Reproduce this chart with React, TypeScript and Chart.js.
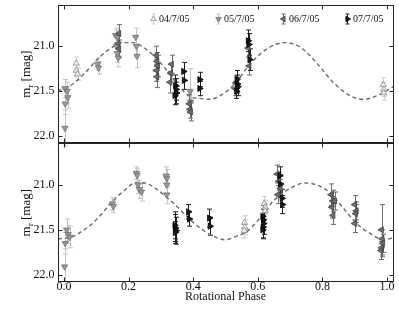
import React, { useEffect, useRef } from 'react';
import { Chart, registerables } from 'chart.js';
Chart.register(...registerables);

type P = [number, number, number]; // phase, magnitude, error

const xTicks = [0, 0.2, 0.4, 0.6, 0.8, 1.0];
const yTicks = [21.0, 21.5, 22.0];
const sessions = ['04/7/05', '05/7/05', '06/7/05', '07/7/05'];

// ---- top panel observations ----
const top04: P[] = [[0.038, 21.19, 0.07], [0.038, 21.27, 0.07], [0.042, 21.31, 0.07], [0.988, 21.43, 0.08], [0.990, 21.48, 0.08], [0.990, 21.52, 0.08]];
const top05: P[] = [[0.003, 21.47, 0.1], [0.010, 21.50, 0.1], [0.012, 21.57, 0.12], [0.004, 21.64, 0.12], [0.003, 21.91, 0.2], [0.104, 21.20, 0.07], [0.107, 21.24, 0.07], [0.160, 20.88, 0.08], [0.165, 20.90, 0.08], [0.163, 21.00, 0.1], [0.165, 21.08, 0.1], [0.168, 21.13, 0.1], [0.222, 20.90, 0.1], [0.224, 21.00, 0.12], [0.226, 21.11, 0.13], [0.390, 21.50, 0.25], [0.392, 21.62, 0.12]];
const top06: P[] = [[0.170, 20.86, 0.1], [0.168, 20.97, 0.1], [0.170, 21.03, 0.1], [0.286, 21.10, 0.1], [0.288, 21.17, 0.1], [0.290, 21.22, 0.12], [0.286, 21.27, 0.12], [0.288, 21.34, 0.12], [0.333, 21.20, 0.1], [0.330, 21.30, 0.1], [0.328, 21.40, 0.12], [0.388, 21.64, 0.1], [0.390, 21.70, 0.1], [0.392, 21.73, 0.1], [0.530, 21.47, 0.08], [0.532, 21.41, 0.08], [0.570, 21.02, 0.1], [0.573, 21.22, 0.1]];
const top07: P[] = [[0.345, 21.44, 0.12], [0.347, 21.48, 0.12], [0.348, 21.52, 0.12], [0.343, 21.55, 0.1], [0.370, 21.28, 0.1], [0.372, 21.38, 0.1], [0.420, 21.37, 0.08], [0.420, 21.47, 0.08], [0.535, 21.37, 0.1], [0.537, 21.42, 0.1], [0.538, 21.45, 0.1], [0.534, 21.50, 0.08], [0.570, 20.94, 0.12], [0.572, 20.98, 0.12], [0.575, 21.15, 0.12]];

// ---- bottom panel observations ----
const bot04: P[] = [[0.559, 21.42, 0.08], [0.560, 21.47, 0.08], [0.558, 21.51, 0.08], [0.620, 21.21, 0.08], [0.623, 21.25, 0.08], [0.622, 21.29, 0.08]];
const bot05: P[] = [[0.008, 21.50, 0.12], [0.013, 21.55, 0.1], [0.018, 21.58, 0.12], [0.004, 21.65, 0.12], [0.002, 21.91, 0.2], [0.150, 21.21, 0.07], [0.153, 21.24, 0.07], [0.224, 20.87, 0.07], [0.226, 20.89, 0.07], [0.229, 21.00, 0.1], [0.233, 21.05, 0.1], [0.240, 21.08, 0.1], [0.316, 20.90, 0.1], [0.318, 20.93, 0.1], [0.318, 21.00, 0.1], [0.318, 21.11, 0.1]];
const bot06: P[] = [[0.660, 20.88, 0.1], [0.665, 20.96, 0.1], [0.662, 21.11, 0.1], [0.670, 21.04, 0.1], [0.827, 21.11, 0.12], [0.832, 21.18, 0.12], [0.838, 21.18, 0.1], [0.829, 21.25, 0.12], [0.833, 21.34, 0.1], [0.900, 21.22, 0.1], [0.905, 21.29, 0.1], [0.903, 21.32, 0.1], [0.900, 21.43, 0.1], [0.983, 21.50, 0.28], [0.985, 21.60, 0.1], [0.987, 21.65, 0.1], [0.983, 21.70, 0.1], [0.981, 21.73, 0.1]];
const bot07: P[] = [[0.343, 21.45, 0.15], [0.345, 21.48, 0.15], [0.347, 21.51, 0.15], [0.344, 21.53, 0.12], [0.385, 21.30, 0.08], [0.388, 21.38, 0.08], [0.450, 21.37, 0.1], [0.452, 21.46, 0.1], [0.615, 21.35, 0.12], [0.617, 21.39, 0.12], [0.618, 21.43, 0.12], [0.616, 21.47, 0.12], [0.615, 21.50, 0.1], [0.668, 20.90, 0.1], [0.670, 20.99, 0.1], [0.675, 21.15, 0.1], [0.676, 21.22, 0.1]];

// ---- model light curves ----
const topCurvePhase = [-0.019, 0.019, 0.056, 0.111, 0.142, 0.183, 0.214, 0.245, 0.276, 0.319, 0.359, 0.396, 0.421, 0.452, 0.483, 0.523, 0.576, 0.628, 0.684, 0.731, 0.783, 0.833, 0.885, 0.926, 0.969, 1.019];
const topCurveMag = [21.50, 21.44, 21.33, 21.12, 21.03, 20.96, 20.96, 21.01, 21.10, 21.27, 21.46, 21.57, 21.58, 21.59, 21.55, 21.44, 21.20, 21.03, 20.96, 21.01, 21.19, 21.40, 21.55, 21.59, 21.55, 21.45];
const botCurvePhase = [-0.019, 0.023, 0.054, 0.085, 0.115, 0.146, 0.188, 0.219, 0.250, 0.291, 0.322, 0.338, 0.380, 0.421, 0.462, 0.498, 0.535, 0.566, 0.607, 0.628, 0.638, 0.679, 0.710, 0.746, 0.782, 0.824, 0.865, 0.906, 0.947, 0.989, 1.019];
const botCurveMag = [21.60, 21.58, 21.52, 21.44, 21.33, 21.20, 21.06, 20.98, 20.98, 21.06, 21.15, 21.20, 21.35, 21.48, 21.57, 21.61, 21.57, 21.52, 21.37, 21.28, 21.22, 21.09, 21.02, 20.98, 21.00, 21.09, 21.26, 21.43, 21.54, 21.61, 21.59];

const FONT = '"Liberation Serif", "DejaVu Serif", serif';
const STY = [
  { rot: 0, bg: '#efefef', bd: '#8c8c8c', err: '#cfcfcf' },
  { rot: 180, bg: '#9a9a9a', bd: '#6e6e6e', err: '#c4c4c4' },
  { rot: 270, bg: '#6e6e6e', bd: '#404040', err: '#6a6a6a' },
  { rot: 90, bg: '#1a1a1a', bd: '#000000', err: '#1e1e1e' },
];

function ptsDs(arr: P[], si: number, axis: string) {
  const s = STY[si];
  return {
    label: sessions[si] + axis,
    data: arr.map(([x, y]) => ({ x, y })),
    errs: arr.map((p) => p[2]),
    errColor: s.err,
    yAxisID: axis,
    showLine: false,
    pointStyle: 'triangle',
    rotation: s.rot,
    pointRadius: 3.6,
    pointBorderWidth: 0.8,
    backgroundColor: s.bg,
    borderColor: s.bd,
    order: 4 - si,
  };
}

function curveDs(ph: number[], mg: number[], axis: string) {
  return {
    label: 'model' + axis,
    data: ph.map((x, i) => ({ x, y: mg[i] })),
    yAxisID: axis,
    showLine: true,
    borderColor: '#6a6a6a',
    borderWidth: 1.4,
    borderDash: [4, 3],
    pointRadius: 0,
    tension: 0.4,
    cubicInterpolationMode: 'monotone',
    order: 10,
  };
}

function triangle(ctx: CanvasRenderingContext2D, x: number, y: number, r: number, rotDeg: number) {
  let rad = (rotDeg * Math.PI) / 180;
  ctx.beginPath();
  for (let k = 0; k < 3; k++) {
    const px = x + Math.sin(rad) * r;
    const py = y - Math.cos(rad) * r;
    if (k === 0) ctx.moveTo(px, py); else ctx.lineTo(px, py);
    rad += (2 * Math.PI) / 3;
  }
  ctx.closePath();
}

const decorPlugin = {
  id: 'decor',
  beforeDatasetsDraw(chart: any) {
    const ctx = chart.ctx;
    const xs = chart.scales.x;
    chart.data.datasets.forEach((ds: any) => {
      if (!ds.errs) return;
      const ys = chart.scales[ds.yAxisID];
      ctx.save();
      ctx.strokeStyle = ds.errColor;
      ctx.lineWidth = 1;
      ds.data.forEach((p: any, j: number) => {
        const x = Math.round(xs.getPixelForValue(p.x)) + 0.5;
        const y1 = ys.getPixelForValue(p.y - ds.errs[j]);
        const y2 = ys.getPixelForValue(p.y + ds.errs[j]);
        ctx.beginPath();
        ctx.moveTo(x, y1); ctx.lineTo(x, y2);
        ctx.moveTo(x - 2.5, y1); ctx.lineTo(x + 2.5, y1);
        ctx.moveTo(x - 2.5, y2); ctx.lineTo(x + 2.5, y2);
        ctx.stroke();
      });
      ctx.restore();
    });
  },
  afterDraw(chart: any) {
    const ctx = chart.ctx;
    const area = chart.chartArea;
    const xs = chart.scales.x;
    ctx.save();
    ctx.strokeStyle = '#222';
    ctx.lineWidth = 1;
    ['yTop', 'yBot'].forEach((id) => {
      const ys = chart.scales[id];
      const t = Math.round(ys.top) + 0.5;
      const b = Math.round(ys.bottom) - 0.5;
      const l = Math.round(area.left) + 0.5;
      const r = Math.round(area.right) - 0.5;
      ctx.strokeStyle = '#222';
      ctx.lineWidth = 1;
      ctx.strokeRect(l, t, r - l, b - t);
      ctx.beginPath();
      xTicks.forEach((v) => {
        const x = Math.round(xs.getPixelForValue(v)) + 0.5;
        ctx.moveTo(x, t); ctx.lineTo(x, t + 4);
        ctx.moveTo(x, b); ctx.lineTo(x, b - 4);
      });
      yTicks.forEach((v) => {
        const y = Math.round(ys.getPixelForValue(v)) + 0.5;
        ctx.moveTo(l, y); ctx.lineTo(l + 4, y);
        ctx.moveTo(r, y); ctx.lineTo(r - 4, y);
      });
      ctx.stroke();
      // y title: m_r [mag]
      const cy = (ys.top + ys.bottom) / 2;
      ctx.save();
      ctx.translate(27, cy);
      ctx.rotate(-Math.PI / 2);
      ctx.fillStyle = '#111';
      ctx.textBaseline = 'middle';
      ctx.font = `13px ${FONT}`;
      const wm = ctx.measureText('m').width;
      const wRest = ctx.measureText(' [mag]').width;
      ctx.font = `9px ${FONT}`;
      const wr = ctx.measureText('r').width;
      const total = wm + wr + wRest;
      const x0 = -total / 2;
      ctx.textAlign = 'left';
      ctx.font = `13px ${FONT}`;
      ctx.fillText('m', x0, 0);
      ctx.font = `9px ${FONT}`;
      ctx.fillText('r', x0 + wm, 4);
      ctx.font = `13px ${FONT}`;
      ctx.fillText(' [mag]', x0 + wm + wr, 0);
      ctx.restore();
    });
    // legend
    const ly = 19;
    const lx = [153, 218, 283, 347];
    ctx.font = `10px ${FONT}`;
    ctx.textBaseline = 'middle';
    ctx.textAlign = 'left';
    sessions.forEach((name, i) => {
      const s = STY[i];
      const x = lx[i] + 0.5;
      ctx.strokeStyle = s.err;
      ctx.lineWidth = 1;
      ctx.beginPath();
      ctx.moveTo(x, ly - 5); ctx.lineTo(x, ly + 5);
      ctx.moveTo(x - 2, ly - 5); ctx.lineTo(x + 2, ly - 5);
      ctx.moveTo(x - 2, ly + 5); ctx.lineTo(x + 2, ly + 5);
      ctx.stroke();
      triangle(ctx, x, ly, 3.2, s.rot);
      ctx.fillStyle = s.bg;
      ctx.fill();
      ctx.strokeStyle = s.bd;
      ctx.lineWidth = 0.8;
      ctx.stroke();
      ctx.fillStyle = '#111';
      ctx.fillText(name, lx[i] + 6, ly + 0.5);
    });
    ctx.restore();
  },
};

export default function App() {
  const ref = useRef<HTMLCanvasElement>(null);
  useEffect(() => {
    if (!ref.current) return;
    const yAxis = () => ({
      type: 'linear',
      position: 'left',
      stack: 'panels',
      stackWeight: 1,
      reverse: true,
      min: 20.54,
      max: 22.08,
      grid: { display: false, drawTicks: false },
      border: { display: false },
      afterBuildTicks: (s: any) => { s.ticks = yTicks.map((v) => ({ value: v })); },
      afterFit: (s: any) => { s.width = 57.5; s.paddingTop = 0; s.paddingBottom = 0; },
      ticks: {
        callback: (v: any) => Number(v).toFixed(1),
        font: { family: FONT, size: 12 },
        color: '#111',
        padding: 3,
      },
    });
    const chart = new Chart(ref.current, {
      type: 'scatter',
      data: {
        datasets: [
          curveDs(topCurvePhase, topCurveMag, 'yTop'),
          ptsDs(top04, 0, 'yTop'), ptsDs(top05, 1, 'yTop'), ptsDs(top06, 2, 'yTop'), ptsDs(top07, 3, 'yTop'),
          curveDs(botCurvePhase, botCurveMag, 'yBot'),
          ptsDs(bot04, 0, 'yBot'), ptsDs(bot05, 1, 'yBot'), ptsDs(bot06, 2, 'yBot'), ptsDs(bot07, 3, 'yBot'),
        ] as any,
      },
      options: {
        animation: false,
        responsive: false,
        maintainAspectRatio: false,
        layout: { padding: { top: 4, right: 5.5, bottom: 0, left: 0 } },
        plugins: { legend: { display: false }, tooltip: { enabled: false } },
        scales: {
          x: {
            type: 'linear',
            min: -0.02,
            max: 1.02,
            grid: { display: false, drawTicks: false },
            border: { display: false },
            afterBuildTicks: (s: any) => { s.ticks = xTicks.map((v) => ({ value: v })); },
            afterFit: (s: any) => { s.height = 38; s.paddingLeft = 0; s.paddingRight = 0; },
            ticks: {
              callback: (v: any) => Number(v).toFixed(1),
              font: { family: FONT, size: 12, lineHeight: 1 },
              color: '#111',
              padding: -1,
              maxRotation: 0,
              autoSkip: false,
            },
            title: {
              display: true,
              text: 'Rotational Phase',
              font: { family: FONT, size: 12 },
              color: '#111',
              padding: { top: 0, bottom: 16 },
            },
          },
          yBot: yAxis(),
          yTop: yAxis(),
        } as any,
      },
      plugins: [decorPlugin],
    });
    return () => chart.destroy();
  }, []);
  return (
    <div style={{ position: 'fixed', left: 0, top: 0, width: 399, height: 320, background: '#fff' }}>
      <canvas ref={ref} width={399} height={320} style={{ display: 'block', width: 399, height: 320 }} />
    </div>
  );
}
